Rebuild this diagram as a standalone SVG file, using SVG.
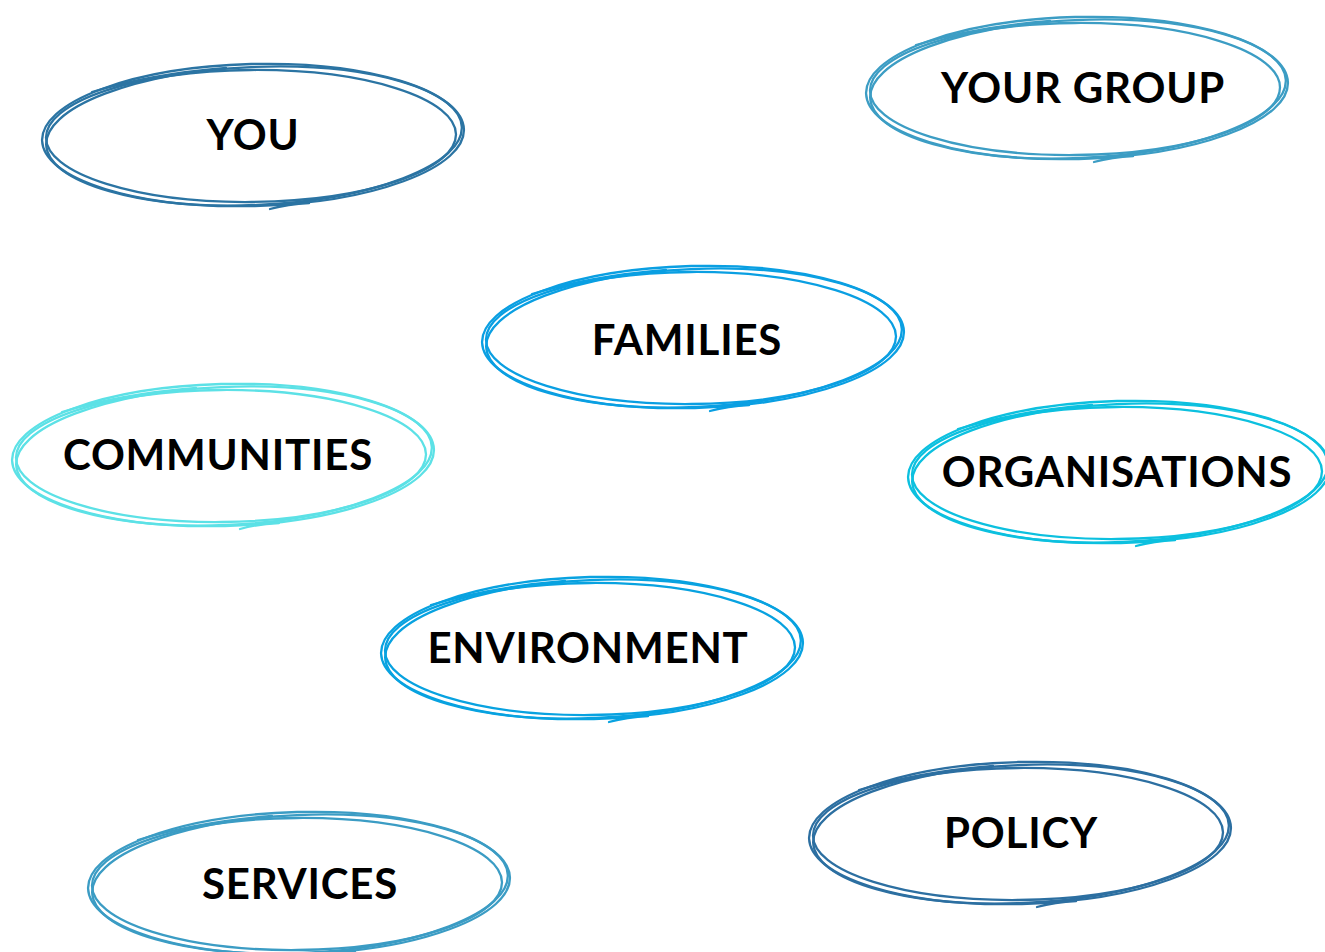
<svg xmlns="http://www.w3.org/2000/svg" xmlns:xlink="http://www.w3.org/1999/xlink" width="1325" height="952" viewBox="0 0 1325 952">
<style>
.lbl{font-family:"Lato","Liberation Sans",sans-serif;font-weight:700;font-size:42px;fill:#000;text-anchor:middle;letter-spacing:0.8px}
.sc{fill:none;stroke:currentColor;stroke-width:2.3;stroke-linecap:round}
</style>
<defs>
<g id="scribble">
<ellipse class="sc" cx="212" cy="73" rx="211" ry="71" transform="rotate(-1.5 212 73)"/>
<ellipse class="sc" cx="213" cy="74" rx="208" ry="69" transform="rotate(-2.5 213 74)"/>
<ellipse class="sc" cx="210" cy="74" rx="205" ry="66" transform="rotate(-0.5 210 74)"/>
<path class="sc" d="M51,30 Q110,12 185,6"/>
<path class="sc" d="M229,147 Q247,142 268,141"/>
</g>
</defs>
<rect width="1325" height="952" fill="#fff"/>
<g id="you"><use xlink:href="#scribble" x="41" y="62" style="color:#2b74a3"/><text class="lbl" x="253" y="150">YOU</text></g>
<g id="your-group"><use xlink:href="#scribble" x="865" y="15" style="color:#3c9dc4"/><text class="lbl" x="1083" y="103">YOUR GROUP</text></g>
<g id="families"><use xlink:href="#scribble" x="481" y="264" style="color:#0a9fe2"/><text class="lbl" x="687" y="355">FAMILIES</text></g>
<g id="communities"><use xlink:href="#scribble" x="11" y="382" style="color:#5ce1e6"/><text class="lbl" x="218" y="470">COMMUNITIES</text></g>
<g id="organisations"><use xlink:href="#scribble" x="907" y="399" style="color:#0cc0df"/><text class="lbl" x="1117" y="487">ORGANISATIONS</text></g>
<g id="environment"><use xlink:href="#scribble" x="380" y="575" style="color:#08a2e0"/><text class="lbl" x="588" y="663">ENVIRONMENT</text></g>
<g id="policy"><use xlink:href="#scribble" x="808" y="760" style="color:#2c6fa1"/><text class="lbl" x="1021" y="848">POLICY</text></g>
<g id="services"><use xlink:href="#scribble" x="87" y="810" style="color:#3b9cc4"/><text class="lbl" x="300" y="899">SERVICES</text></g>
<g id="connectors"></g>
</svg>
